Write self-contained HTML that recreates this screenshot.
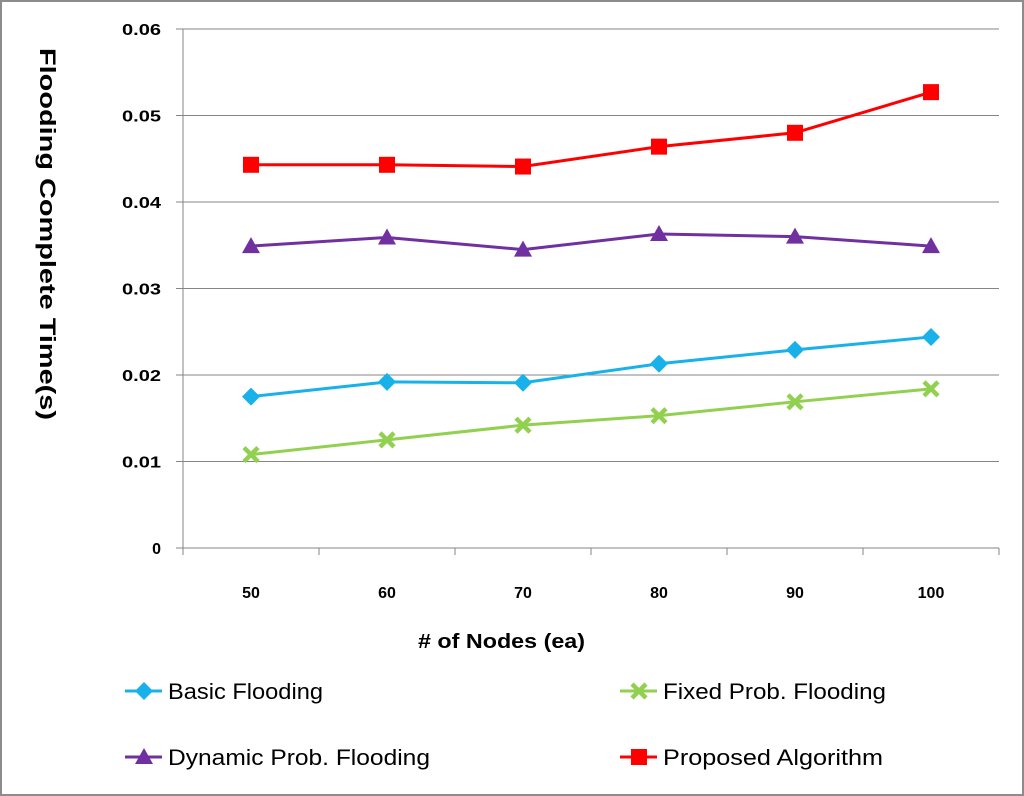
<!DOCTYPE html>
<html><head><meta charset="utf-8"><style>
html,body{margin:0;padding:0;background:#fff;}
svg{display:block;font-family:"Liberation Sans",sans-serif;}
</style></head><body>
<svg id="chart" width="1024" height="796">
<rect x="1" y="1" width="1022" height="794" fill="#fff" stroke="#8c8c8c" stroke-width="2"/>
<g id="grid"></g><g id="axes"></g><g id="series"></g><g id="legend"></g>
<text x="418" y="648" textLength="167" lengthAdjust="spacingAndGlyphs" font-size="20" font-weight="bold"># of Nodes (ea)</text>
<text transform="translate(40,48) rotate(90)" textLength="372" lengthAdjust="spacingAndGlyphs" font-size="22" font-weight="bold">Flooding Complete Time(s)</text>
</svg>
<script>
const categories = ["50","60","70","80","90","100"];
const yTicks = [0,0.01,0.02,0.03,0.04,0.05,0.06];
const yTickLabels = ["0","0.01","0.02","0.03","0.04","0.05","0.06"];
const basicFlooding = [0.0175,0.0192,0.0191,0.0213,0.0229,0.0244];
const fixedProbFlooding = [0.0108,0.0125,0.0142,0.0153,0.0169,0.0184];
const dynamicProbFlooding = [0.0349,0.0359,0.0345,0.0363,0.0360,0.0349];
const proposedAlgorithm = [0.0443,0.0443,0.0441,0.0464,0.0480,0.0527];
const seriesNames = ["Basic Flooding","Fixed Prob. Flooding","Dynamic Prob. Flooding","Proposed Algorithm"];

const NS="http://www.w3.org/2000/svg";
const L=183,R=999,T=29,B=548,yMax=0.06;
const bw=(R-L)/categories.length;
const xS=i=>L+bw*(i+0.5);
const yS=v=>B-(v/yMax)*(B-T);
function mk(tag,attrs,parent){const e=document.createElementNS(NS,tag);for(const k in attrs)e.setAttribute(k,attrs[k]);parent.appendChild(e);return e;}
const grid=document.getElementById('grid'),axes=document.getElementById('axes'),ser=document.getElementById('series'),leg=document.getElementById('legend');
yTicks.forEach((v,i)=>{
  if(i>0){const g=mk('line',{x1:L,x2:R,y1:yS(v),y2:yS(v),stroke:'#868686','stroke-width':1},grid);
  
  }
  const tk=mk('line',{x1:L-7,x2:L,y1:yS(v),y2:yS(v),stroke:'#868686'},axes);
  
  
  const t=mk('text',{x:L-22,y:yS(v)+6,'text-anchor':'end','font-size':16,'font-weight':'bold'},axes);
  if(i>0){t.setAttribute('textLength',39);t.setAttribute('lengthAdjust','spacingAndGlyphs');}
  t.textContent=yTickLabels[i];
  
  
});
const ya=mk('line',{x1:L,x2:L,y1:T,y2:B,stroke:'#868686'},axes);


const xa=mk('line',{x1:L,x2:R,y1:B,y2:B,stroke:'#868686'},axes);


for(let i=0;i<=categories.length;i++){
  const tk=mk('line',{x1:L+bw*i,x2:L+bw*i,y1:B,y2:B+7,stroke:'#868686'},axes);
  
  
}
categories.forEach((c,i)=>{
  const t=mk('text',{x:xS(i),y:598,'text-anchor':'middle','font-size':16,'font-weight':'bold'},axes);
  t.textContent=c;
  
  
});
function marker(type,x,y,color,parent){
  let e;
  if(type==='diamond') e=mk('polygon',{points:`${x},${y-9} ${x+9},${y} ${x},${y+9} ${x-9},${y}`,fill:color},parent);
  else if(type==='square') e=mk('rect',{x:x-8,y:y-8,width:16,height:16,fill:color},parent);
  else if(type==='triangle') e=mk('polygon',{points:`${x},${y-9} ${x+9},${y+7} ${x-9},${y+7}`,fill:color},parent);
  else {e=mk('path',{d:`M${x-7},${y-7}L${x+7},${y+7}M${x+7},${y-7}L${x-7},${y+7}`,stroke:color,'stroke-width':4.5},parent);}
  return e;
}
const defs=[[basicFlooding,'#19b1ea','diamond','basic-flooding'],[fixedProbFlooding,'#92d050','x','fixed-prob-flooding'],[dynamicProbFlooding,'#7030a0','triangle','dynamic-prob-flooding'],[proposedAlgorithm,'#ff0000','square','proposed-algorithm']];
defs.forEach(([vals,color,m,name])=>{
  const g=mk('g',{},ser);
  
  
  const p=mk('polyline',{points:vals.map((v,i)=>xS(i)+','+yS(v)).join(' '),fill:'none',stroke:color,'stroke-width':3},g);
  
  
  vals.forEach((v,i)=>{const mm=marker(m,xS(i),yS(v),color,g);
    
    });
});
const legPos=[[125,691],[620,691],[125,757],[620,757]];
const legLens=[155,223,262,220];
defs.forEach(([vals,color,m,name],i)=>{
  const [x,y]=legPos[i];
  const g=mk('g',{},leg);
  
  
  mk('line',{x1:x,x2:x+37,y1:y,y2:y,stroke:color,'stroke-width':3},g);
  marker(m,x+19,y,color,g);
  const t=mk('text',{x:x+43,y:y+8,'font-size':22,textLength:legLens[i],lengthAdjust:'spacingAndGlyphs'},g);
  t.textContent=seriesNames[i];
});
</script>
</body></html>
